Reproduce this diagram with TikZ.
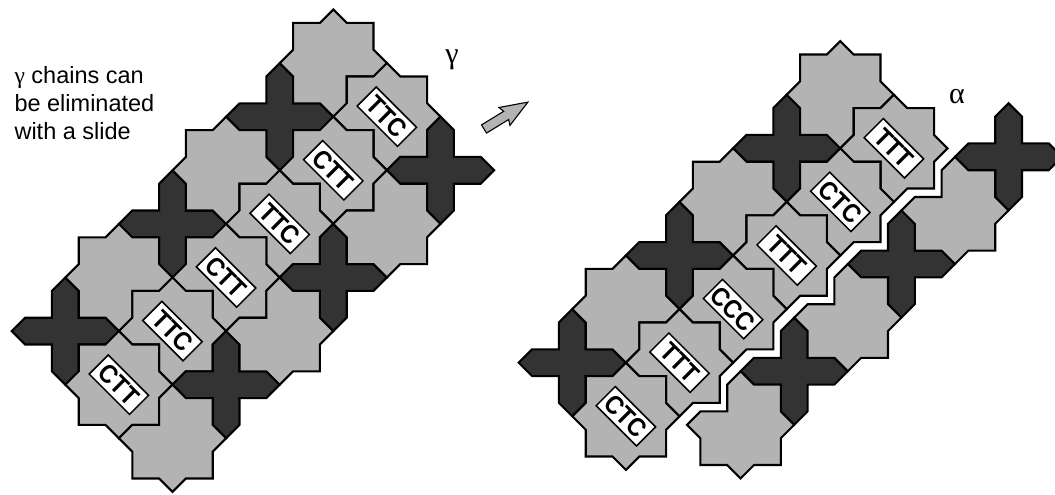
\documentclass[tikz,border=0pt]{standalone}
\usepackage{fontspec}
\usepackage{graphicx}
\setmainfont{Liberation Sans}
\newfontfamily\serifgreek{Liberation Serif}
\definecolor{tilelight}{RGB}{179,179,179}
\definecolor{tiledark}{RGB}{51,51,51}
\tikzset{
  tileline/.style={draw=black, line width=2.1pt, line join=miter},
  labelbox/.style={draw=black, fill=white, line width=1.5pt, rotate=-45,
    minimum width=57pt, minimum height=27pt, inner sep=0pt,
    font=\fontsize{26}{26}\selectfont\bfseries},
  greeklabel/.style={font=\serifgreek\fontsize{30}{30}\selectfont},
  captiontext/.style={anchor=base west, font=\fontsize{23.5}{27.5}\selectfont},
  arrowshape/.style={fill=tilelight, draw=black, line width=1.1pt, line join=miter},
}
% tile centred at lattice point (a,b); k=1 edge bulges inward, k=3 outward
\newcommand{\tilepoly}[7]{%
  \begin{scope}[shift={({4*(#1)},{4*(#2)})}]
    \filldraw[tileline, fill=#7] (0,-4) -- (1,-3) -- (#3,-#3) -- (3,-1) -- (4,0)
      -- (3,1) -- (#4,#4) -- (1,3) -- (0,4) -- (-1,3) -- (-#5,#5) -- (-3,1)
      -- (-4,0) -- (-3,-1) -- (-#6,-#6) -- (-1,-3) -- cycle;
  \end{scope}}
\newcommand{\crs}[2]{\tilepoly{#1}{#2}{1}{1}{1}{1}{tiledark}}
\newcommand{\lighttile}[6]{\tilepoly{#1}{#2}{#3}{#4}{#5}{#6}{tilelight}}
\newcommand{\chainlabel}[4]{\node[labelbox] (#4) at ({4*(#1)},{4*(#2)}) {\scalebox{0.9}[1]{#3}};}

\begin{document}
\begin{tikzpicture}[x=1pt,y=-1pt]
\useasboundingbox (0,0) rectangle (1055,495);
\fill[white] (0,0) rectangle (1055,495);

% ---------------- left panel ----------------
\begin{scope}[shift={(279.7,116.7)},x=13.4pt,y=-13.4pt]
  \crs{0}{0}\crs{-2}{2}\crs{-4}{4}
  \lighttile{1}{-1}{3}{1}{3}{3}
  \lighttile{-1}{1}{3}{1}{3}{3}
  \lighttile{-3}{3}{3}{1}{3}{3}
  \lighttile{2}{0}{3}{3}{1}{3}
  \lighttile{1}{1}{3}{3}{1}{3}
  \lighttile{0}{2}{3}{3}{1}{3}
  \lighttile{-1}{3}{3}{3}{1}{3}
  \lighttile{-2}{4}{3}{3}{1}{3}
  \lighttile{-3}{5}{3}{3}{3}{3}
  \crs{3}{1}\crs{1}{3}\crs{-1}{5}
  \lighttile{2}{2}{3}{3}{3}{1}
  \lighttile{0}{4}{3}{3}{3}{1}
  \lighttile{-2}{6}{3}{3}{3}{1}
  \chainlabel{2}{0}{TTC}{l1}
  \chainlabel{1}{1}{CTT}{l2}
  \chainlabel{0}{2}{TTC}{l3}
  \chainlabel{-1}{3}{CTT}{l4}
  \chainlabel{-2}{4}{TTC}{l5}
  \chainlabel{-3}{5}{CTT}{l6}
\end{scope}

% ---------------- right panel ----------------
\begin{scope}[shift={(786.7,148.3)},x=13.4pt,y=-13.4pt]
  \crs{0}{0}\crs{-2}{2}\crs{-4}{4}
  \lighttile{1}{-1}{3}{1}{3}{3}
  \lighttile{-1}{1}{3}{1}{3}{3}
  \lighttile{-3}{3}{3}{1}{3}{3}
  \lighttile{2}{0}{3}{3}{1}{3}
  \lighttile{1}{1}{3}{3}{1}{3}
  \lighttile{0}{2}{3}{3}{1}{3}
  \lighttile{-1}{3}{3}{3}{1}{3}
  \lighttile{-2}{4}{3}{3}{1}{3}
  \lighttile{-3}{5}{3}{3}{3}{3}
  \begin{scope}[shift={(7.5pt,-8.5pt)}]
    \crs{4}{0}\crs{2}{2}\crs{0}{4}
    \lighttile{3}{1}{3}{3}{3}{1}
    \lighttile{1}{3}{3}{3}{3}{1}
    \lighttile{-1}{5}{3}{3}{3}{1}
  \end{scope}
  \chainlabel{2}{0}{TTT}{r1}
  \chainlabel{1}{1}{CTC}{r2}
  \chainlabel{0}{2}{TTT}{r3}
  \chainlabel{-1}{3}{CCC}{r4}
  \chainlabel{-2}{4}{TTT}{r5}
  \chainlabel{-3}{5}{CTC}{r6}
\end{scope}

% ---------------- texts and arrow ----------------
\node[captiontext] (cap1) at (11,84) {{\serifgreek γ} chains can};
\node[captiontext] (cap2) at (11,111.5) {be eliminated};
\node[captiontext] (cap3) at (11,139) {with a slide};
\node[greeklabel] (gamma) at (452,60) {γ};
\node[greeklabel] (alpha) at (957,97) {α};
\filldraw[arrowshape, shift={(484,129)}, rotate=31.5]
  (0,-4.8) -- (26,-4.8) -- (24,-10.5) -- (51.5,0) -- (24,10.5) -- (26,4.8) -- (0,4.8) -- cycle;
\end{tikzpicture}
\end{document}
